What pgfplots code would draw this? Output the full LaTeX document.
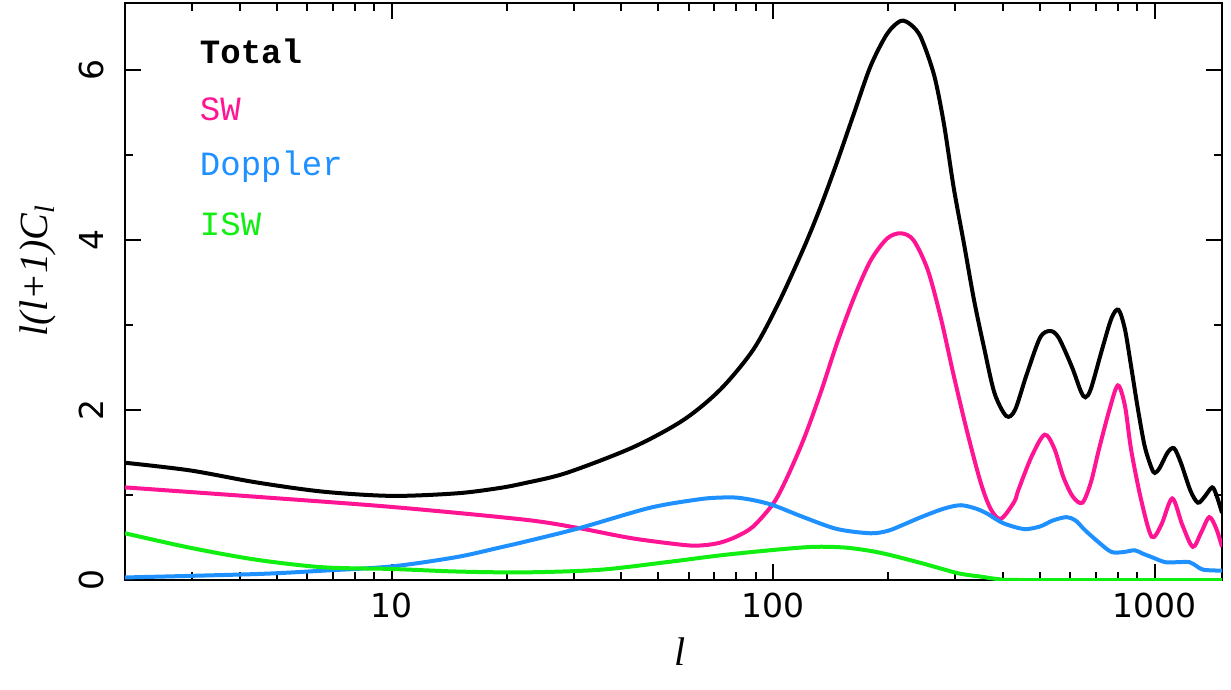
\documentclass[border=0pt]{standalone}
\usepackage{fontspec}
\setmainfont{Liberation Sans}
\setmonofont{Liberation Mono}
\newfontfamily\seriffont{Liberation Serif}
\newfontfamily\tickfont{DejaVu Sans}
\usepackage{pgfplots}
\pgfplotsset{compat=1.18}
\definecolor{swpink}{HTML}{FF1493}
\definecolor{dopblue}{HTML}{1E90FF}
\definecolor{iswgreen}{HTML}{11EE11}

\pgfplotstableread{
l    v
2    1.38
2.96 1.29
4.4  1.15
6.6  1.04
10   0.99
14.8 1.02
19   1.08
22.3 1.14
28.7 1.26
42.8 1.56
58   1.88
72.6 2.24
88.6 2.71
103  3.25
120  3.90
133  4.39
147  4.92
163  5.50
180  6.05
199  6.43
216  6.58
230  6.53
244  6.38
264  5.94
280  5.37
297  4.62
316  3.96
336  3.29
357  2.73
380  2.20
408  1.93
430  2.00
460  2.40
500  2.85
532  2.93
560  2.85
606  2.51
640  2.22
658  2.15
680  2.25
727  2.71
770  3.08
803  3.18
835  2.95
867  2.51
900  2.05
940  1.58
980  1.32
1000 1.26
1030 1.32
1080 1.50
1123 1.55
1170 1.38
1240 1.05
1297 0.91
1350 0.98
1413 1.09
1450 1.00
1500 0.79
}\total

\pgfplotstableread{
l    v
2    1.09
4.4  0.98
10   0.86
22.3 0.71
31   0.61
42.8 0.49
59   0.41
66   0.41
72.6 0.44
80   0.51
88.6 0.63
100  0.90
108  1.18
120  1.65
133  2.20
147  2.79
163  3.33
180  3.76
199  4.02
216  4.08
233  4.00
254  3.65
275  3.08
297  2.41
322  1.75
350  1.14
372  0.83
395  0.72
428  0.92
439  1.06
475  1.45
514  1.71
545  1.55
576  1.21
610  0.98
646  0.91
680  1.15
713  1.53
760  2.00
800  2.29
835  2.05
867  1.53
920  0.95
981  0.51
1040 0.65
1111 0.96
1180 0.65
1257 0.39
1320 0.55
1389 0.74
1450 0.60
1500 0.39
}\sw

\pgfplotstableread{
l    v
2    0.03
4.4  0.07
6.6  0.11
10   0.16
14.8 0.27
19.1 0.38
22.3 0.45
31   0.61
47.5 0.85
64   0.95
72.6 0.97
80   0.97
88.6 0.94
100  0.88
120  0.74
147  0.60
180  0.55
200  0.58
219  0.65
244  0.74
280  0.84
310  0.88
340  0.84
364  0.78
400  0.67
454  0.60
500  0.63
540  0.70
587  0.74
620  0.70
655  0.59
710  0.45
770  0.33
830  0.33
886  0.35
930  0.31
981  0.27
1064 0.21
1150 0.21
1233 0.21
1290 0.16
1342 0.12
1500 0.11
}\doppler

\pgfplotstableread{
l    v
2    0.55
2.96 0.38
4.4  0.24
6.6  0.15
10   0.13
14.8 0.10
22.3 0.09
35   0.12
52.5 0.21
72.6 0.29
98   0.35
127  0.39
156  0.38
191  0.32
244  0.20
305  0.08
350  0.04
390  0.01
450  0
1500 0
}\isw

\begin{document}
\begin{tikzpicture}
\begin{axis}[
  xmode=log, scale only axis,
  width=548.5pt, height=288.5pt,
  xmin=2, xmax=1500, ymin=0, ymax=6.79,
  xtick={10,100,1000}, xticklabels={10,100,1000},
  minor xtick={2,3,4,5,6,7,8,9,20,30,40,50,60,70,80,90,200,300,400,500,600,700,800,900},
  ytick={0,2,4,6}, yticklabels={0,2,4,6},
  minor ytick={1,3,5},
  major tick length=8pt, minor tick length=4pt,
  axis line style={line width=1.2pt},
  every tick/.style={black, line width=1pt},
  tick label style={font=\tickfont\fontsize{16.5}{16.5}\selectfont},
  xticklabel style={yshift=-3pt},
  yticklabel style={rotate=90, anchor=south, yshift=7pt},
  xlabel={\seriffont\itshape l},
  ylabel={\seriffont\itshape l(l+1)C\textsubscript{l}},
  every axis x label/.style={at={(axis description cs:0.506,-0.124)}, anchor=center,
    font=\fontsize{20}{20}\selectfont},
  every axis y label/.style={at={(axis description cs:-0.079,0.536)}, rotate=90, anchor=center,
    font=\fontsize{20}{20}\selectfont},
]
\addplot[color=black, line width=2pt, smooth] table[x=l, y=v] {\total};
\addplot[color=swpink, line width=2pt, smooth] table[x=l, y=v] {\sw};
\addplot[color=dopblue, line width=2pt, smooth] table[x=l, y=v] {\doppler};
\addplot[color=iswgreen, line width=2pt, smooth] table[x=l, y=v] {\isw};

\node[anchor=west, inner sep=0pt, font=\fontsize{17}{17}\selectfont\ttfamily\bfseries, text=black] at (rel axis cs:0.068,0.916) {Total};
\node[anchor=west, inner sep=0pt, font=\fontsize{17}{17}\selectfont\ttfamily, text=swpink] at (rel axis cs:0.068,0.816) {SW};
\node[anchor=west, inner sep=0pt, font=\fontsize{17}{17}\selectfont\ttfamily, text=dopblue] at (rel axis cs:0.068,0.716) {Doppler};
\node[anchor=west, inner sep=0pt, font=\fontsize{17}{17}\selectfont\ttfamily, text=iswgreen] at (rel axis cs:0.068,0.616) {ISW};
\end{axis}
\path ([xshift=-62.5pt,yshift=-54.5pt]current axis.south west) rectangle ([xshift=4.5pt,yshift=1.5pt]current axis.north east);
\end{tikzpicture}
\end{document}
